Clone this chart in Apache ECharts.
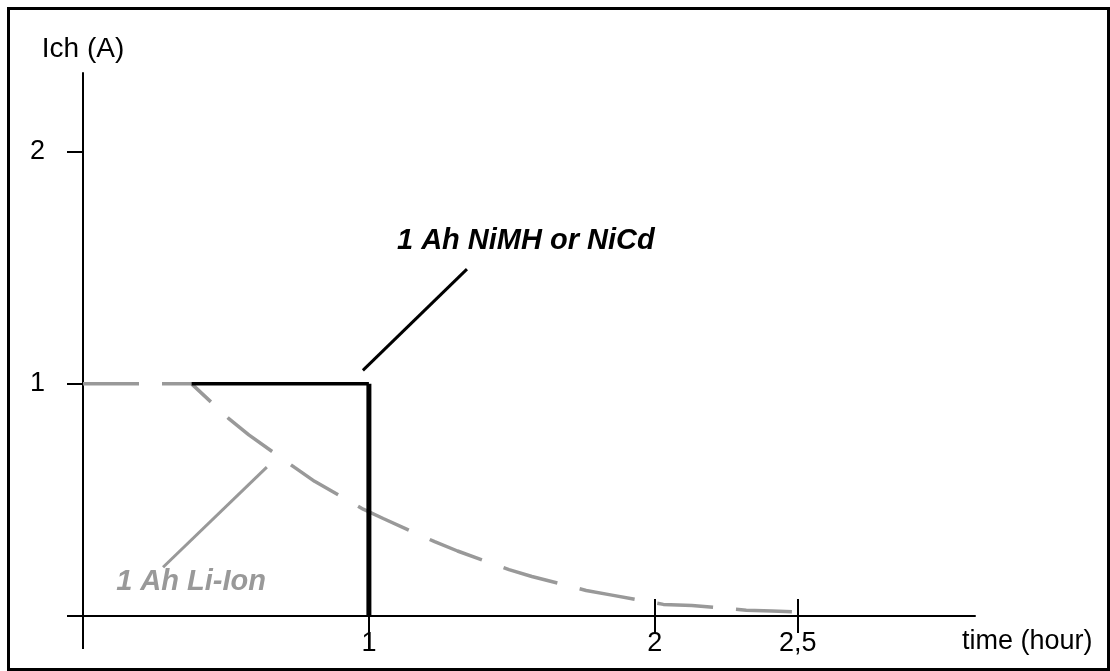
<!DOCTYPE html>
<html>
<head>
<meta charset="utf-8">
<script src="https://cdn.jsdelivr.net/npm/echarts@6/dist/echarts.min.js"></script>
<style>
html,body{margin:0;padding:0;background:#fff;}
#wrap{position:relative;width:1110px;height:671px;overflow:hidden;}
#chart{position:absolute;left:0;top:0;width:1110px;height:671px;}
#frame{position:absolute;left:7px;top:7px;width:1097px;height:658px;border:3px solid #000;pointer-events:none;}
</style>
</head>
<body>
<div id="wrap"><div id="chart"></div><div id="frame"></div></div>
<script>
// ---- data ----
const liIonT = [0, 0.38, 0.51, 0.58, 0.74, 0.81, 0.98, 1.05, 1.23, 1.31, 1.49, 1.57, 1.76, 1.85, 2.03, 2.13, 2.32, 2.41, 2.54];
const liIonI = [1, 1, 0.85, 0.78, 0.64, 0.58, 0.46, 0.42, 0.32, 0.28, 0.20, 0.17, 0.11, 0.09, 0.05, 0.045, 0.025, 0.022, 0.015];
const nimhTopT = [0.38, 1];
const nimhTopI = [1, 1];
const nimhDropT = [1, 1];
const nimhDropI = [1, 0];
const nimhPointerT = [0.979, 1.343];
const nimhPointerI = [1.058, 1.494];
const liIonPointerT = [0.28, 0.643];
const liIonPointerI = [0.21, 0.641];
const labelNames = ['1 Ah NiMH or NiCd', '1 Ah Li-Ion'];
const labelT = [1.549, 0.378];
const labelI = [1.615, 0.145];
const xTickValues = [1, 2, 2.5];
const xTickLabels = ['1', '2', '2,5'];
const yTickValues = [1, 2];
const yTickLabels = ['1', '2'];
const xName = 'time (hour)';
const yName = 'Ich (A)';

const zip = (a, b) => a.map((v, i) => [v, b[i]]);
const FONT = 'Liberation Sans, Arial, sans-serif';
const GRAY = '#999999';

const chart = echarts.init(document.getElementById('chart'), null, {renderer: 'canvas'});
const xBase = {type: 'value', min: 0, max: 3.12, splitLine: {show: false}, position: 'bottom'};
const tickAxis = (values, inside, length, width) => Object.assign({}, xBase, {
  axisLine: {show: false, onZero: false},
  axisTick: {show: true, inside: inside, customValues: values, length: length, lineStyle: {color: '#000', width: width}},
  axisLabel: {show: false}
});
chart.setOption({
  animation: false,
  backgroundColor: '#fff',
  grid: {left: 83, right: 135, top: 73, bottom: 55, outerBoundsMode: 'none'},
  xAxis: [
    Object.assign({}, xBase, {
      name: xName, nameLocation: 'end', nameGap: -13,
      nameTextStyle: {fontFamily: FONT, fontSize: 27, color: '#000', align: 'left', verticalAlign: 'top', padding: [12, 0, 0, 0]},
      axisLine: {onZero: false, lineStyle: {color: '#000', width: 2}},
      axisTick: {show: false},
      axisLabel: {customValues: xTickValues, margin: 14, fontFamily: FONT, fontSize: 27, color: '#000',
        formatter: v => { const k = xTickValues.indexOf(v); return k >= 0 ? xTickLabels[k] : String(v).replace('.', ','); }}
    }),
    tickAxis([2, 2.5], false, 17, 2),
    tickAxis([2, 2.5], true, 17, 2),
    tickAxis([0, 1], false, 33, 2)
  ],
  yAxis: {
    type: 'value', min: 0, max: 2.339, splitLine: {show: false}, position: 'left',
    name: yName, nameLocation: 'end', nameGap: 10,
    nameTextStyle: {fontFamily: FONT, fontSize: 28, color: '#000'},
    axisLine: {onZero: false, lineStyle: {color: '#000', width: 2}},
    axisTick: {show: true, customValues: [0].concat(yTickValues), length: 16, lineStyle: {color: '#000', width: 2}},
    axisLabel: {customValues: yTickValues, margin: 38, fontFamily: FONT, fontSize: 27, color: '#000',
      formatter: v => { const k = yTickValues.indexOf(v); return k >= 0 ? yTickLabels[k] : String(v); }}
  },
  series: [
    {type: 'line', name: 'Li-Ion', data: zip(liIonT, liIonI), symbol: 'none', silent: true,
      lineStyle: {color: GRAY, width: 3.5, type: [56, 23]}},
    {type: 'line', name: 'NiMH top', data: zip(nimhTopT, nimhTopI), symbol: 'none', silent: true,
      lineStyle: {color: '#000', width: 3.5}},
    {type: 'line', name: 'NiMH drop', data: zip(nimhDropT, nimhDropI), symbol: 'none', silent: true,
      lineStyle: {color: '#000', width: 5}},
    {type: 'line', name: 'NiMH pointer', data: zip(nimhPointerT, nimhPointerI), symbol: 'none', silent: true,
      lineStyle: {color: '#000', width: 3}},
    {type: 'line', name: 'Li-Ion pointer', data: zip(liIonPointerT, liIonPointerI), symbol: 'none', silent: true,
      lineStyle: {color: GRAY, width: 3}},
    {type: 'scatter', symbolSize: 0, silent: true, itemStyle: {opacity: 1},
      data: labelNames.map((n, i) => ({name: n, value: [labelT[i], labelI[i]],
        label: {color: i === 0 ? '#000' : GRAY}})),
      label: {show: true, position: 'inside', formatter: '{b}', fontFamily: FONT, fontSize: 29,
        fontWeight: 'bold', fontStyle: 'italic', textBorderWidth: 0, textBorderColor: 'transparent', opacity: 1}}
  ]
});
</script>
</body>
</html>
